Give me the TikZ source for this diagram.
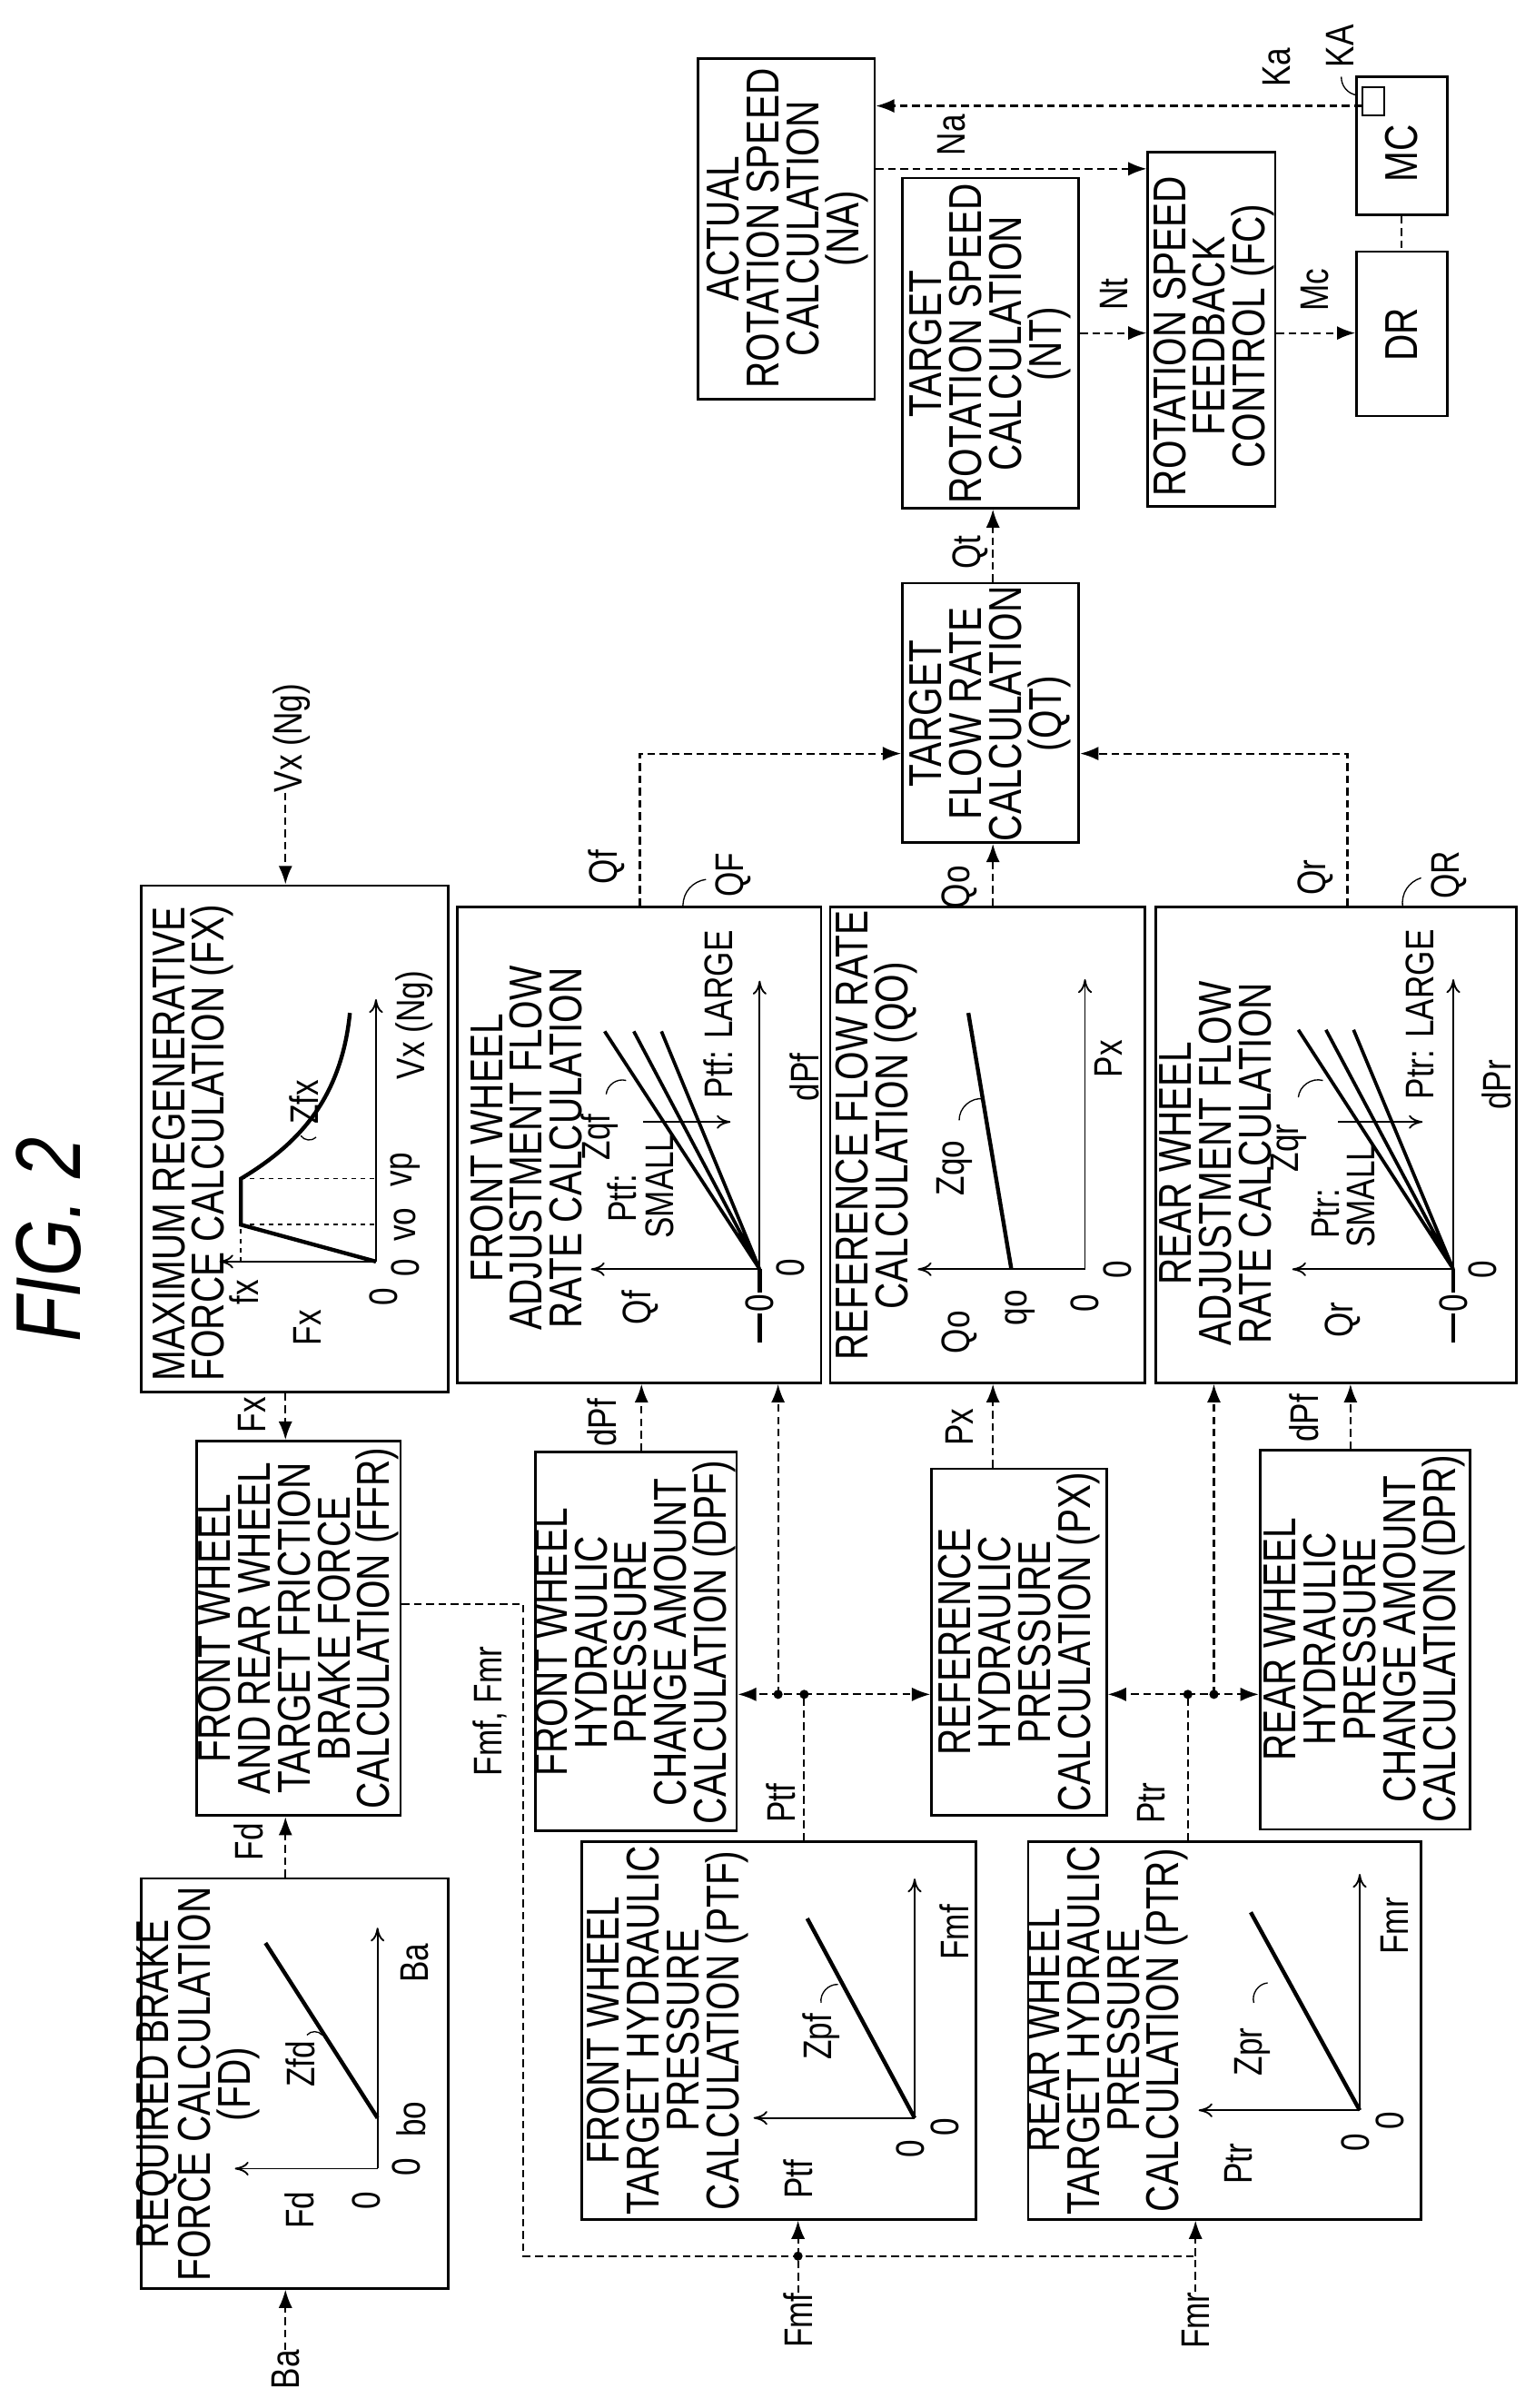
\documentclass[tikz,border=0pt]{standalone}
\usepackage{fontspec}
\setmainfont{Liberation Sans}[FakeStretch=0.8]
\usetikzlibrary{arrows.meta}
\newcommand{\tf}{\fontsize{30}{26}\selectfont}
\newcommand{\lf}{\fontsize{26}{26}\selectfont}
\newcommand{\bx}[5]{\node[box,minimum width={(#4-#2)*1pt},minimum height={(#5-#3)*1pt}] (#1) at ({(#2+#4)/2},{(#3+#5)/2}) {};}
\begin{document}
\begin{tikzpicture}[x=1pt,y=-1pt,
  box/.style={draw,line width=1.6pt,inner sep=0pt},
  t/.style={rotate=90,inner sep=0pt,font=\tf,align=center},
  l/.style={rotate=90,inner sep=0pt,font=\lf},
  dar/.style={line width=1.3pt,dash pattern=on 5pt off 3pt,-{Latex[length=12pt,width=9pt]}},
  dsh/.style={line width=1.3pt,dash pattern=on 5pt off 3pt},
  ax/.style={line width=1.1pt,-{To[length=9pt,width=9pt]}},
  crv/.style={line width=2.6pt},
  dt/.style={line width=1pt,dash pattern=on 3pt off 3pt},
  hk/.style={line width=0.8pt},
  dot/.style={circle,fill,inner sep=0pt,minimum size=6pt}]
\useasboundingbox (0,0) rectangle (1000,1569);
\node[rotate=90,font=\fontsize{60}{60}\selectfont\itshape] (fig) at (32,808) {FIG.~2};
% boxes
\bx{fd}{92}{1224}{292}{1491}
\bx{ffr}{128}{939}{261}{1183}
\bx{fx}{92}{577}{292}{907}
\bx{ptf}{379}{1200}{636}{1446}
\bx{ptr}{670}{1200}{926}{1446}
\bx{dpf}{349}{946}{480}{1193}
\bx{px}{607}{957}{721}{1183}
\bx{dpr}{821}{945}{958}{1192}
\bx{qf}{298}{591}{535}{901}
\bx{qo}{541}{591}{746}{901}
\bx{qr}{753}{591}{988}{901}
\bx{qt}{588}{380}{703}{549}
\bx{nt}{588}{116}{703}{331}
\bx{na}{455}{38}{570}{260}
\bx{fc}{748}{99}{831}{330}
\bx{mc}{884}{50}{943}{140}
\bx{dr}{884}{164}{943}{271}
\node[draw,line width=1.3pt,minimum width=14pt,minimum height=18pt,inner sep=0pt] (ka) at (895,66) {};
% titles
\node[t] (tfd) at (129,1358) {REQUIRED BRAKE\\FORCE CALCULATION\\(FD)};
\node[t] (tffr) at (194.5,1061) {FRONT WHEEL\\AND REAR WHEEL\\TARGET FRICTION\\BRAKE FORCE\\CALCULATION (FFR)};
\node[t,align=left,anchor=north west] (tfx) at (99,900) {MAXIMUM REGENERATIVE\\FORCE CALCULATION (FX)};
\node[t] (tptf) at (435,1323) {FRONT WHEEL\\TARGET HYDRAULIC\\PRESSURE\\CALCULATION (PTF)};
\node[t] (tptr) at (722,1323) {REAR WHEEL\\TARGET HYDRAULIC\\PRESSURE\\CALCULATION (PTR)};
\node[t] (tdpf) at (414,1070) {FRONT WHEEL\\HYDRAULIC\\PRESSURE\\CHANGE AMOUNT\\CALCULATION (DPF)};
\node[t] (tpx) at (664,1070) {REFERENCE\\HYDRAULIC\\PRESSURE\\CALCULATION (PX)};
\node[t] (tdpr) at (889,1068) {REAR WHEEL\\HYDRAULIC\\PRESSURE\\CHANGE AMOUNT\\CALCULATION (DPR)};
\node[t] (tqf) at (343,748) {FRONT WHEEL\\ADJUSTMENT FLOW\\RATE CALCULATION};
\node[t] (tqo) at (571,740) {REFERENCE FLOW RATE\\CALCULATION (QO)};
\node[t] (tqr) at (792,758) {REAR WHEEL\\ADJUSTMENT FLOW\\RATE CALCULATION};
\node[t] (tqt) at (645,465) {TARGET\\FLOW RATE\\CALCULATION\\(QT)};
\node[t] (tnt) at (645,224) {TARGET\\ROTATION SPEED\\CALCULATION\\(NT)};
\node[t] (tna) at (513,149) {ACTUAL\\ROTATION SPEED\\CALCULATION\\(NA)};
\node[t] (tfc) at (791,219) {ROTATION SPEED\\FEEDBACK\\CONTROL (FC)};
\node[t] (tmc) at (913,100) {MC};
\node[t] (tdr) at (913,218) {DR};
% FD graph
\draw[ax] (246,1413) -- (153,1413);
\draw[ax] (246,1413) -- (246,1256);
\draw[crv] (246,1380) -- (173,1266);
\node[l] (g1) at (195,1440) {Fd};
\node[l] (g2) at (239,1434) {0};
\node[l] (g3) at (265,1412) {0};
\node[l] (g4) at (268,1381) {bo};
\node[l] (g5) at (270,1279) {Ba};
\node[l] (g6) at (196,1345) {Zfd};
\draw[hk] (200,1326) to[bend left=50] (210,1326);
% FX graph
\draw[ax] (245,822) -- (143,822);
\draw[ax] (245,822) -- (245,651);
\draw[crv] (245,822) -- (157,798) -- (157,768) .. controls (190,748) and (222,720) .. (228,660);
\draw[dt] (157,822) -- (157,798) (157,798) -- (245,798) (157,768) -- (245,768);
\node[l] (h1) at (159,842) {fx};
\node[l] (h2) at (200,865) {Fx};
\node[l] (h3) at (250,845) {0};
\node[l] (h4) at (264,826) {0};
\node[l] (h5) at (264,798) {vo};
\node[l] (h6) at (264,762) {vp};
\node[l] (h7) at (270,668) {Vx (Ng)};
\node[l] (h8) at (198,718) {Zfx};
\draw[hk] (196,740) to[bend right=50] (206,741);
% QF graph
\draw[ax] (495,827) -- (385,827);
\draw[ax] (495,827) -- (495,639);
\draw[crv] (495,827) -- (495,875);
\draw[line width=2.2pt] (495,827) -- (394,672) (495,827) -- (413,672) (495,827) -- (431,672);
\draw[ax] (419,731) -- (476,731);
\node[l,fill=white,inner sep=1pt] (i1) at (495,849) {0};
\node[l] (i2) at (515,826) {0};
\node[l] (i3) at (417,852) {Qf};
\node[l] (i4) at (405,781) {Ptf:};
\node[l] (i5) at (430,773) {SMALL};
\node[l] (i6) at (468,661) {Ptf: LARGE};
\node[l] (i7) at (391,741) {Zqf};
\node[l] (i8) at (524,702) {dPf};
\draw[hk] (395,713) to[bend left=50] (408,704);
% QO graph
\draw[ax] (707,827) -- (598,827);
\draw[ax] (707,827) -- (707,638);
\draw[crv] (659,827) -- (631,660);
\node[l] (j1) at (625,868) {Qo};
\node[l] (j2) at (665,852) {qo};
\node[l] (j3) at (707,849) {0};
\node[l] (j4) at (728,827) {0};
\node[l] (j5) at (622,761) {Zqo};
\node[l] (j6) at (722,690) {Px};
\draw[hk] (625,730) to[bend left=50] (641,716);
% QR graph
\draw[ax] (947,827) -- (842,827);
\draw[ax] (947,827) -- (947,638);
\draw[crv] (947,827) -- (947,875);
\draw[line width=2.2pt] (947,827) -- (846,671) (947,827) -- (864,671) (947,827) -- (882,671);
\draw[ax] (872,731) -- (927,731);
\node[l,fill=white,inner sep=1pt] (k1) at (947,849) {0};
\node[l] (k2) at (966,827) {0};
\node[l] (k3) at (875,860) {Qr};
\node[l] (k4) at (864,791) {Ptr:};
\node[l] (k5) at (887,779) {SMALL};
\node[l] (k6) at (925,661) {Ptr: LARGE};
\node[l] (k7) at (840,748) {Zqr};
\node[l] (k8) at (975,707) {dPr};
\draw[hk] (846,715) to[bend left=50] (862,704);
% PTF graph
\draw[ax] (596,1380) -- (491,1380);
\draw[ax] (596,1380) -- (596,1224);
\draw[crv] (596,1380) -- (526,1250);
\node[l] (m1) at (520,1420) {Ptf};
\node[l] (m2) at (593,1400) {0};
\node[l] (m3) at (616,1386) {0};
\node[l] (m4) at (535,1327) {Zpf};
\node[l] (m5) at (622,1259) {Fmf};
\draw[hk] (535,1305) to[bend left=50] (546,1293);
% PTR graph
\draw[ax] (886,1375) -- (781,1375);
\draw[ax] (886,1375) -- (886,1221);
\draw[crv] (886,1375) -- (815,1246);
\node[l] (n1) at (807,1410) {Ptr};
\node[l] (n2) at (883,1396) {0};
\node[l] (n3) at (906,1382) {0};
\node[l] (n4) at (816,1337) {Zpr};
\node[l] (n5) at (909,1255) {Fmr};
\draw[hk] (817,1305) to[bend left=50] (826,1292);
% external labels
\node[l] (ba) at (186,1544) {Ba};
\node[l] (vxin) at (190,481) {Vx (Ng)};
\node[l] (fmfin) at (520,1512) {Fmf};
\node[l] (fmrin) at (779,1512) {Fmr};
\node[l] (lfx) at (164,922) {Fx};
\node[l] (lfd) at (162,1200) {Fd};
\node[l] (ldpf) at (392,927) {dPf};
\node[l] (lpx) at (625,930) {Px};
\node[l] (ldpr) at (850,924) {dPf};
\node[l] (lptf) at (509,1175) {Ptf};
\node[l] (lptr) at (750,1175) {Ptr};
\node[l] (lfm) at (319,1115) {Fmf, Fmr};
\node[l] (lqf) at (395,565) {Qf};
\node[l] (lQF) at (478,570) {QF};
\node[l] (lqo) at (625,578) {Qo};
\node[l] (lqr) at (857,572) {Qr};
\node[l] (lQR) at (944,570) {QR};
\node[l] (lqt) at (632,360) {Qt};
\node[l] (lnt) at (726,192) {Nt};
\node[l] (lmc) at (857,189) {Mc};
\node[l] (lna) at (620,88) {Na};
\node[l] (lka) at (832,44) {Ka};
\node[l] (lKA) at (873,30) {KA};
\draw[hk] (445,590) to[bend left=40] (460,573);
\draw[hk] (914,591) to[bend left=40] (926,572);
\draw[hk] (884,62) to[bend left=40] (874,50);
% connectors
\draw[dar] (ba.east) -- (186,0 |- fd.south);
\draw[dar] (186,0 |- fd.north) -- (186,0 |- ffr.south);
\draw[dar] (186,0 |- fx.south) -- (186,0 |- ffr.north);
\draw[dar] (186,0 |- vxin.west) -- (186,0 |- fx.north);
\draw[dar] (418,0 |- dpf.north) -- (418,0 |- qf.south);
\draw[dar] (647,0 |- px.north) -- (647,0 |- qo.south);
\draw[dar] (880,0 |- dpr.north) -- (880,0 |- qr.south);
\coordinate (p1) at (524,1104);
\coordinate (p2) at (507,1104);
\coordinate (r1) at (774,1104);
\coordinate (r2) at (791,1104);
\draw[dsh] (524,0 |- ptf.north) -- (p1);
\draw[dar] (p1) -- (dpf.east |- p1);
\draw[dar] (p1) -- (px.west |- p1);
\draw[dar] (p2) -- (507,0 |- qf.south);
\draw[dsh] (774,0 |- ptr.north) -- (r1);
\draw[dar] (r1) -- (px.east |- r1);
\draw[dar] (r1) -- (dpr.west |- r1);
\draw[dar] (r2) -- (791,0 |- qr.south);
\node[dot] (d1) at (p1) {};
\node[dot] (d2) at (p2) {};
\node[dot] (d3) at (r1) {};
\node[dot] (d4) at (r2) {};
\coordinate (f1) at (341,1045);
\coordinate (f2) at (341,1470);
\coordinate (f3) at (520,1470);
\coordinate (f4) at (779,1470);
\draw[dsh] (ffr.east |- f1) -- (f1) -- (f2) -- (f4);
\draw[dsh] (fmfin.east) -- (f3);
\draw[dsh] (fmrin.east) -- (f4);
\draw[dar] (f3) -- (520,0 |- ptf.south);
\draw[dar] (f4) -- (779,0 |- ptr.south);
\node[dot] (d5) at (f3) {};
\draw[dar] (417,0 |- qf.north) |- (qt.west |- 0,491);
\draw[dar] (878,0 |- qr.north) |- (qt.east |- 0,491);
\draw[dar] (647,0 |- qo.north) -- (647,0 |- qt.south);
\draw[dar] (647,0 |- qt.north) -- (647,0 |- nt.south);
\draw[dar] (nt.east |- 0,217) -- (fc.west |- 0,217);
\draw[dar] (fc.east |- 0,217) -- (dr.west |- 0,217);
\draw[dar] (na.east |- 0,110) -- (fc.west |- 0,110);
\draw[dar] (ka.west |- 0,69) -- (na.east |- 0,69);
\draw[dsh] (913,0 |- mc.south) -- (913,0 |- dr.north);
\end{tikzpicture}
\end{document}
